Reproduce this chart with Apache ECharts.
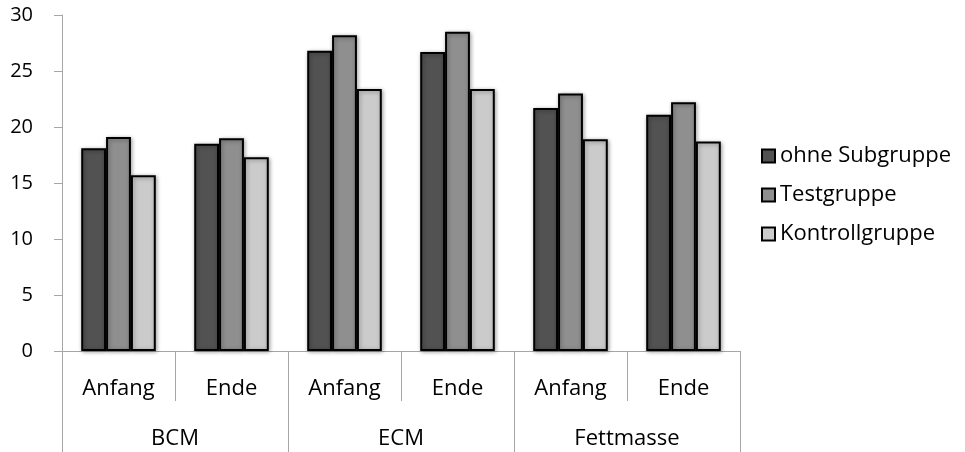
<!DOCTYPE html>
<html>
<head>
<meta charset="utf-8">
<script src="https://cdn.jsdelivr.net/npm/echarts@6/dist/echarts.min.js"></script>
<style>
html,body{margin:0;padding:0;background:#fff;}
#chart{width:965px;height:452px;}
</style>
</head>
<body>
<div id="chart"></div>
<script>
const subCategories = ['Anfang', 'Ende', 'Anfang', 'Ende', 'Anfang', 'Ende'];
const groupCategories = ['BCM', 'ECM', 'Fettmasse'];
const seriesNames = ['ohne Subgruppe', 'Testgruppe', 'Kontrollgruppe'];
const ohneSubgruppe = [18.1, 18.5, 26.8, 26.7, 21.7, 21.1];
const testgruppe = [19.1, 19.0, 28.2, 28.5, 23.0, 22.2];
const kontrollgruppe = [15.7, 17.3, 23.4, 23.4, 18.9, 18.7];
const yTicks = [0, 5, 10, 15, 20, 25, 30];

const colors = ['#525252', '#8f8f8f', '#cbcbcb'];
const values = [ohneSubgruppe, testgruppe, kontrollgruppe];
const FONT = '"Open Sans", "Noto Sans", sans-serif';
const axisGray = '#a6a6a6';

const chart = echarts.init(document.getElementById('chart'), null, {renderer: 'canvas'});
chart.setOption({
  animation: false,
  textStyle: {fontFamily: FONT},
  grid: {left: 62, right: 225, top: 15, bottom: 101, containLabel: false},
  legend: {
    orient: 'vertical',
    left: 756,
    top: 140,
    itemWidth: 13,
    itemHeight: 13,
    itemGap: 17,
    icon: 'rect',
    data: seriesNames,
    textStyle: {fontFamily: FONT, fontSize: 22, color: '#000'}
  },
  xAxis: [
    {
      type: 'category',
      data: subCategories,
      position: 'bottom',
      axisLine: {show: true, lineStyle: {color: axisGray, width: 1}},
      axisTick: {show: true, length: 50, interval: 0, lineStyle: {color: axisGray}},
      axisLabel: {interval: 0, margin: 27, fontSize: 22, color: '#000', fontFamily: FONT},
      splitLine: {show: false}
    },
    {
      type: 'category',
      data: groupCategories,
      position: 'bottom',
      axisLine: {show: false},
      axisTick: {show: true, length: 101, interval: 0, lineStyle: {color: axisGray}},
      axisLabel: {interval: 0, margin: 77, fontSize: 22, color: '#000', fontFamily: FONT},
      splitLine: {show: false}
    }
  ],
  yAxis: {
    type: 'value',
    min: yTicks[0],
    max: yTicks[yTicks.length - 1],
    interval: 5,
    axisLine: {show: true, lineStyle: {color: axisGray}},
    axisTick: {show: true, length: 8, lineStyle: {color: axisGray}},
    axisLabel: {margin: 29, fontSize: 20, color: '#000', fontFamily: FONT},
    splitLine: {show: false}
  },
  series: seriesNames.map((name, i) => ({
    name: name,
    type: 'bar',
    xAxisIndex: 0,
    data: values[i],
    barGap: '0%',
    barCategoryGap: '34%',
    itemStyle: {
      color: colors[i],
      borderColor: '#000',
      borderWidth: 2,
      shadowColor: 'rgba(0,0,0,0.35)',
      shadowBlur: 4,
      shadowOffsetX: 1,
      shadowOffsetY: 1
    }
  }))
});
</script>
</body>
</html>
